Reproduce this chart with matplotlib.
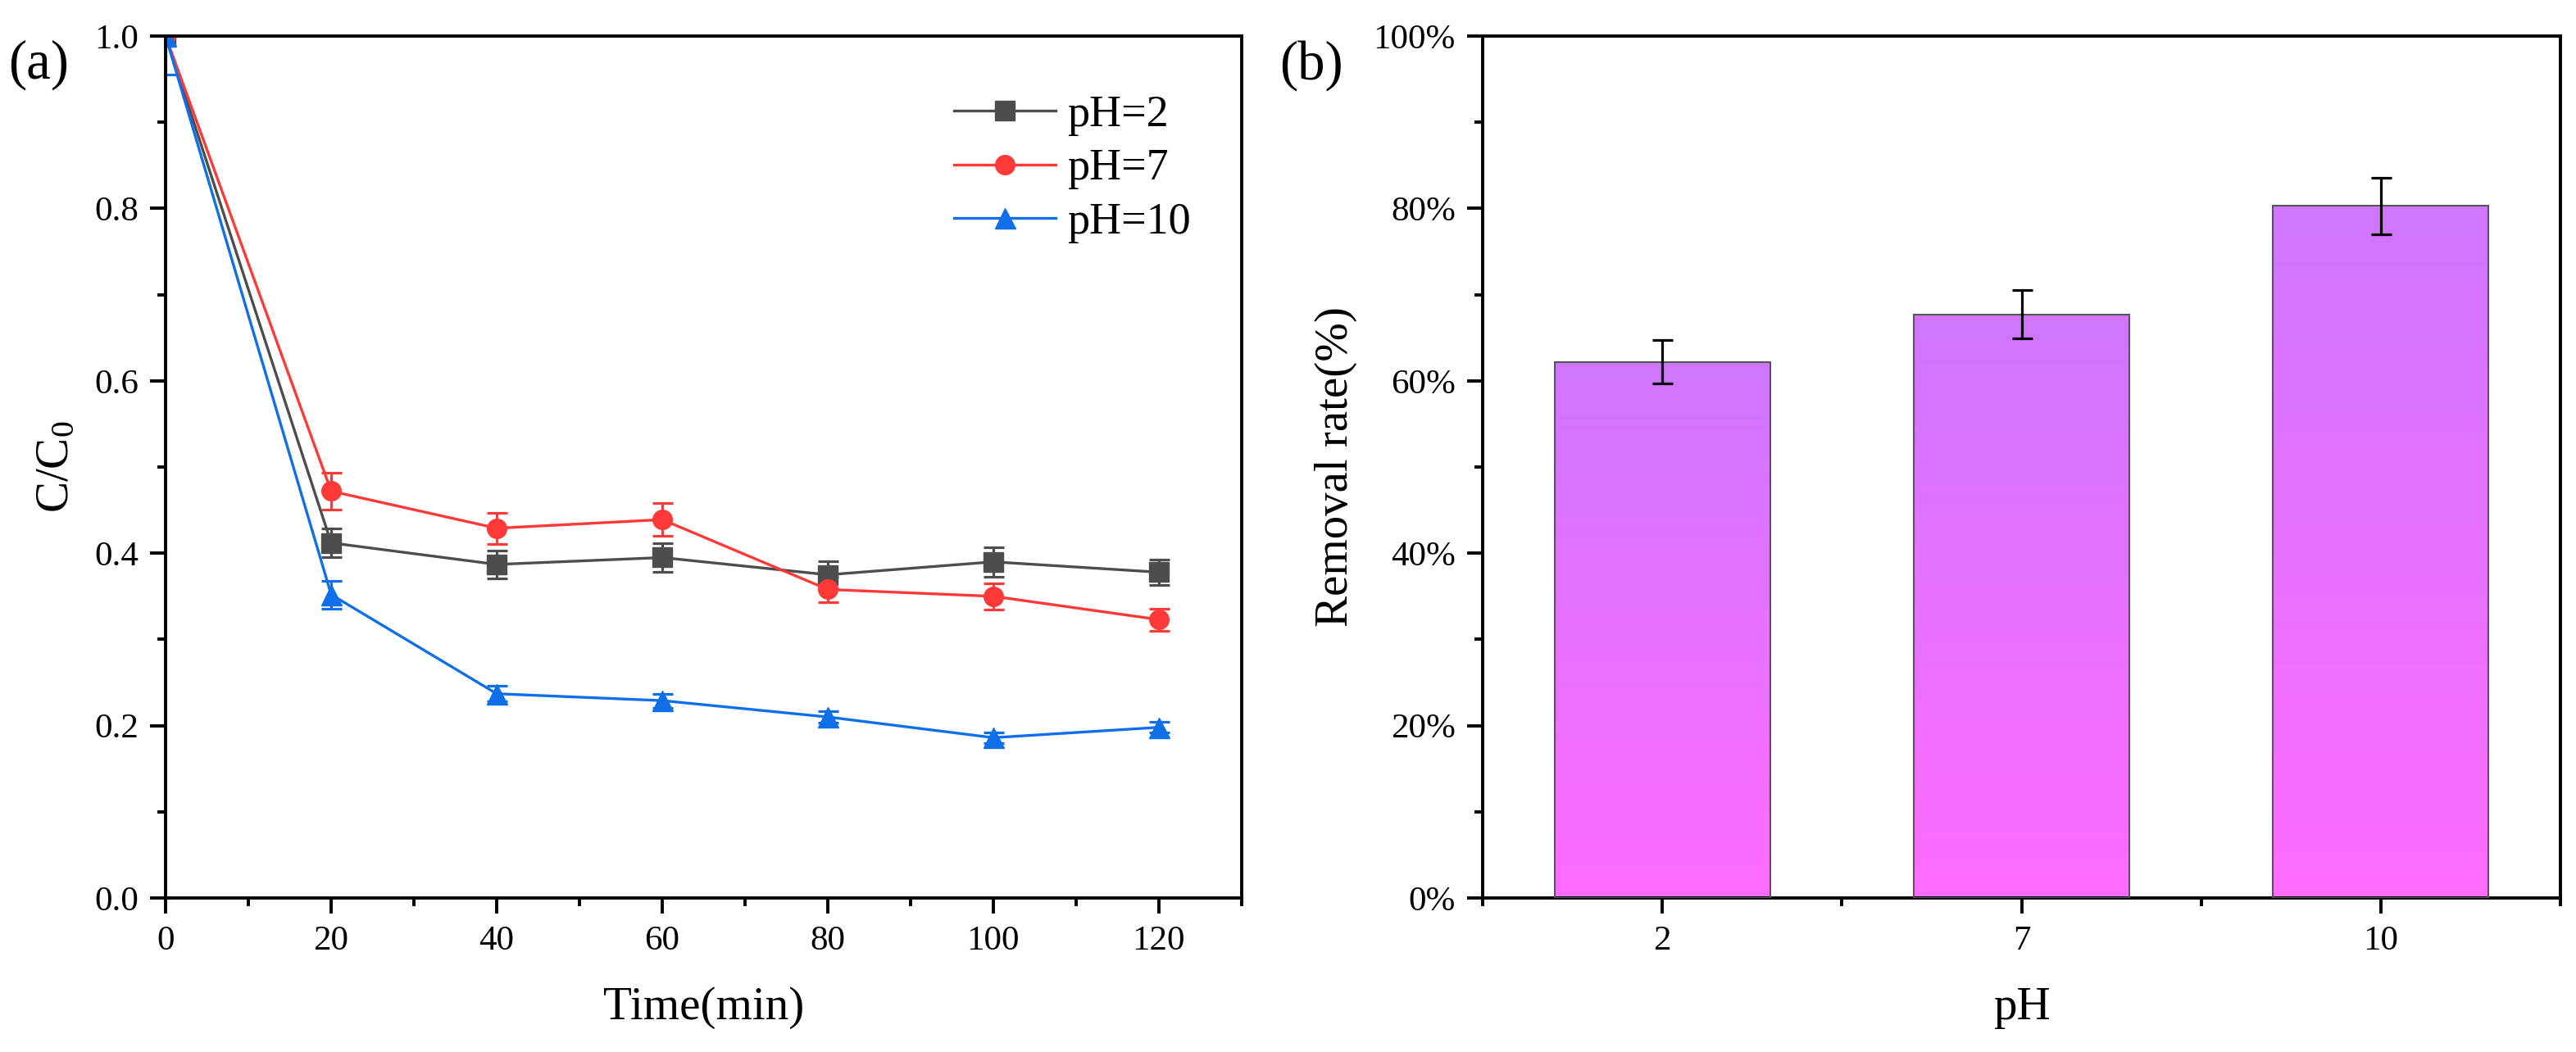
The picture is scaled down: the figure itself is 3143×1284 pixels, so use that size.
import numpy as np
import matplotlib.pyplot as plt
from matplotlib.colors import LinearSegmentedColormap
from matplotlib.lines import Line2D
from matplotlib.ticker import MultipleLocator, PercentFormatter

plt.rcParams['font.family'] = ['Liberation Serif', 'DejaVu Serif']
plt.rcParams['mathtext.fontset'] = 'custom'
plt.rcParams['mathtext.rm'] = 'Liberation Serif'
plt.rcParams['mathtext.it'] = 'Liberation Serif:italic'

# (a) C/C0 vs time
time = [0, 20, 40, 60, 80, 100, 120]
ph2 = [1.0, 0.412, 0.387, 0.395, 0.375, 0.390, 0.378]
ph2_err = [0, 0.017, 0.016, 0.017, 0.016, 0.017, 0.015]
ph7 = [1.0, 0.472, 0.429, 0.439, 0.358, 0.350, 0.323]
ph7_err = [0, 0.021, 0.018, 0.019, 0.015, 0.015, 0.013]
ph10 = [1.0, 0.352, 0.237, 0.229, 0.210, 0.186, 0.198]
ph10_err = [0.045, 0.016, 0.009, 0.008, 0.007, 0.006, 0.006]

# (b) removal rate
ph_labels = ['2', '7', '10']
removal = [62.2, 67.7, 80.3]
removal_err = [2.5, 2.8, 3.3]

fig = plt.figure(figsize=(31.43, 12.84), dpi=100)
ax1 = fig.add_axes([0.0643, 0.1464, 0.4177, 0.8193])
ax2 = fig.add_axes([0.5756, 0.1464, 0.4184, 0.8193])

lw_spine = 2.8
tick_fs = 31
label_fs = 41

series = [
    (ph2, ph2_err, '#4d4d4d', 's', 'pH=2'),
    (ph7, ph7_err, '#ff3838', 'o', 'pH=7'),
    (ph10, ph10_err, '#0f6fe8', '^', 'pH=10'),
]
handles = []
for y, e, c, m, lab in series:
    ms = 18 if m == '^' else 17
    ax1.errorbar(time, y, yerr=e, color=c, marker=m, markersize=ms, lw=2.4,
                 elinewidth=2.3, capsize=9, capthick=2.3)
    handles.append(Line2D([], [], color=c, marker=m, markersize=ms, lw=2.4, label=lab))

ax1.set_xlim(0, 130)
ax1.set_ylim(0, 1.0)
ax1.xaxis.set_major_locator(MultipleLocator(20))
ax1.xaxis.set_minor_locator(MultipleLocator(10))
ax1.yaxis.set_major_locator(MultipleLocator(0.2))
ax1.yaxis.set_minor_locator(MultipleLocator(0.1))
ax1.yaxis.set_major_formatter(plt.FormatStrFormatter('%.1f'))
ax1.set_xlabel('Time(min)', fontsize=label_fs, labelpad=26)
ax1.set_ylabel(r'C/C$_\mathrm{0}$', fontsize=label_fs, labelpad=14)
ax1.legend(handles=handles, loc='upper left', bbox_to_anchor=(0.712, 0.958),
           frameon=False, fontsize=39, handlelength=2.3, handletextpad=0.25,
           labelspacing=0.28, borderpad=0)

# (b) bars with vertical gradient
x = np.arange(len(ph_labels))
bars = ax2.bar(x, removal, width=0.6, facecolor='none', edgecolor='#555555',
               linewidth=1.5, zorder=3)
cmap = LinearSegmentedColormap.from_list('grad', ['#ff6cff', '#cf76fe'])
grad = np.linspace(0, 1, 256).reshape(-1, 1)
for b in bars:
    x0, y0 = b.get_x(), b.get_y()
    im = ax2.imshow(grad, cmap=cmap, origin='lower', aspect='auto',
                    extent=[x0, x0 + b.get_width(), y0, y0 + b.get_height()],
                    zorder=2)
    im.set_clip_path(b)
ax2.errorbar(x, removal, yerr=removal_err, fmt='none', ecolor='black',
             elinewidth=2.3, capsize=9, capthick=2.3, zorder=4)
ax2.set_xlim(-0.5, 2.5)
ax2.set_ylim(0, 100)
ax2.set_xticks(x)
ax2.set_xticklabels(ph_labels)
ax2.xaxis.set_minor_locator(MultipleLocator(0.5))
ax2.yaxis.set_major_locator(MultipleLocator(20))
ax2.yaxis.set_minor_locator(MultipleLocator(10))
ax2.yaxis.set_major_formatter(PercentFormatter(decimals=0))
ax2.set_xlabel('pH', fontsize=label_fs, labelpad=26)
ax2.set_ylabel('Removal rate(%)', fontsize=label_fs, labelpad=14)

for ax in (ax1, ax2):
    for s in ax.spines.values():
        s.set_linewidth(lw_spine)
    ax.tick_params(which='major', direction='out', length=14, width=2.8,
                   labelsize=tick_fs, pad=10)
    ax.tick_params(which='minor', direction='out', length=7, width=2.8)

fig.text(0.015, 0.938, '(a)', fontsize=48, ha='center', va='center')
fig.text(0.509, 0.938, '(b)', fontsize=48, ha='center', va='center')

fig.savefig('out.png', dpi=100)
